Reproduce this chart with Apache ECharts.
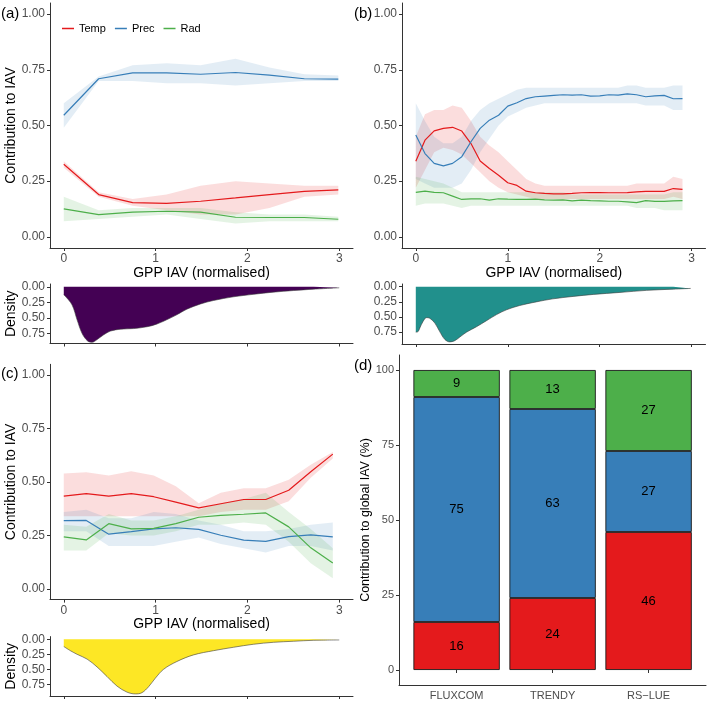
<!DOCTYPE html>
<html><head><meta charset="utf-8">
<script src="https://cdn.jsdelivr.net/npm/echarts@6/dist/echarts.min.js"></script>
<style>html,body{margin:0;padding:0;background:#fff}#c{width:709px;height:702px}</style>
</head><body><div id="c"></div>
<script>
// ---------- DATA ----------
const X_TICKS = [0, 1, 2, 3];
const Y_TICKS = [0, 0.25, 0.5, 0.75, 1];
const D_TICKS = [0, 0.25, 0.5, 0.75];
const BAR_TICKS = [0, 25, 50, 75, 100];

// panel (a)
const A_x       = [0, 0.38, 0.75, 1.12, 1.49, 1.87, 2.24, 2.62, 2.99];
const A_temp    = [0.326, 0.19, 0.154, 0.15, 0.16, 0.175, 0.19, 0.204, 0.211];
const A_temp_lo = [0.31, 0.18, 0.14, 0.12, 0.10, 0.10, 0.13, 0.18, 0.19];
const A_temp_hi = [0.34, 0.20, 0.17, 0.19, 0.23, 0.25, 0.24, 0.23, 0.23];
const A_prec    = [0.546, 0.71, 0.736, 0.736, 0.73, 0.738, 0.726, 0.71, 0.708];
const A_prec_lo = [0.49, 0.70, 0.70, 0.69, 0.69, 0.68, 0.69, 0.70, 0.70];
const A_prec_hi = [0.60, 0.72, 0.77, 0.78, 0.77, 0.80, 0.76, 0.73, 0.725];
const A_rad     = [0.126, 0.10, 0.111, 0.115, 0.111, 0.088, 0.087, 0.087, 0.079];
const A_rad_lo  = [0.07, 0.08, 0.09, 0.10, 0.08, 0.06, 0.07, 0.07, 0.07];
const A_rad_hi  = [0.18, 0.12, 0.13, 0.13, 0.13, 0.11, 0.10, 0.10, 0.09];

// panel (b)
const B_x       = [0,0.1,0.2,0.3,0.4,0.5,0.6,0.7,0.8,0.9,1.0,1.1,1.2,1.3,1.4,1.5,1.6,1.7,1.8,1.9,2.0,2.1,2.2,2.3,2.4,2.5,2.6,2.7,2.8,2.9];
const B_prec    = [0.457,0.374,0.33,0.319,0.33,0.36,0.427,0.487,0.524,0.546,0.587,0.602,0.621,0.629,0.632,0.635,0.638,0.636,0.638,0.632,0.633,0.638,0.636,0.642,0.638,0.629,0.633,0.635,0.62,0.621];
const B_prec_lo = [0.26,0.24,0.22,0.22,0.22,0.24,0.30,0.38,0.44,0.50,0.54,0.56,0.58,0.59,0.60,0.60,0.60,0.60,0.60,0.60,0.60,0.60,0.60,0.60,0.60,0.59,0.59,0.59,0.57,0.57];
const B_prec_hi = [0.60,0.52,0.45,0.42,0.42,0.45,0.52,0.57,0.60,0.62,0.64,0.66,0.67,0.67,0.67,0.67,0.67,0.67,0.67,0.67,0.67,0.67,0.67,0.68,0.68,0.67,0.67,0.67,0.68,0.68];
const B_temp    = [0.34,0.434,0.476,0.487,0.492,0.475,0.419,0.341,0.307,0.277,0.243,0.231,0.205,0.198,0.195,0.193,0.193,0.195,0.198,0.199,0.199,0.198,0.198,0.199,0.202,0.204,0.204,0.204,0.217,0.213];
const B_temp_lo = [0.22,0.30,0.38,0.40,0.39,0.37,0.33,0.29,0.25,0.22,0.20,0.19,0.18,0.17,0.17,0.17,0.17,0.17,0.17,0.17,0.17,0.17,0.17,0.17,0.17,0.17,0.17,0.17,0.18,0.17];
const B_temp_hi = [0.45,0.55,0.57,0.57,0.59,0.58,0.52,0.45,0.41,0.38,0.34,0.30,0.26,0.24,0.23,0.23,0.23,0.23,0.23,0.23,0.23,0.23,0.23,0.23,0.24,0.24,0.24,0.24,0.27,0.26];
const B_rad     = [0.2,0.205,0.2,0.198,0.183,0.168,0.171,0.171,0.165,0.171,0.169,0.168,0.168,0.169,0.166,0.165,0.166,0.162,0.165,0.163,0.162,0.16,0.16,0.157,0.154,0.163,0.159,0.159,0.162,0.163];
const B_rad_lo  = [0.14,0.15,0.15,0.15,0.14,0.13,0.14,0.14,0.14,0.14,0.14,0.14,0.14,0.14,0.14,0.14,0.14,0.14,0.14,0.14,0.14,0.14,0.14,0.14,0.13,0.13,0.13,0.12,0.12,0.12];
const B_rad_hi  = [0.27,0.26,0.25,0.24,0.22,0.20,0.20,0.20,0.20,0.20,0.20,0.20,0.20,0.20,0.20,0.20,0.20,0.19,0.19,0.19,0.19,0.19,0.19,0.19,0.19,0.19,0.19,0.19,0.20,0.20];

// panel (c)
const C_x       = [0, 0.245, 0.49, 0.735, 0.98, 1.22, 1.47, 1.71, 1.96, 2.2, 2.45, 2.69, 2.93];
const C_temp    = [0.434,0.445,0.434,0.445,0.431,0.406,0.379,0.398,0.418,0.418,0.461,0.548,0.63];
const C_temp_lo = [0.34,0.34,0.34,0.34,0.34,0.34,0.34,0.36,0.37,0.37,0.41,0.52,0.61];
const C_temp_hi = [0.54,0.545,0.53,0.55,0.53,0.48,0.40,0.45,0.47,0.47,0.51,0.58,0.64];
const C_prec    = [0.319,0.32,0.256,0.268,0.281,0.286,0.278,0.251,0.228,0.222,0.244,0.253,0.243];
const C_prec_lo = [0.27,0.27,0.20,0.20,0.20,0.22,0.24,0.21,0.19,0.17,0.20,0.20,0.18];
const C_prec_hi = [0.36,0.37,0.33,0.33,0.36,0.35,0.32,0.30,0.27,0.27,0.28,0.30,0.31];
const C_rad     = [0.243,0.229,0.305,0.281,0.283,0.305,0.335,0.344,0.349,0.355,0.29,0.192,0.121];
const C_rad_lo  = [0.18,0.18,0.26,0.25,0.25,0.27,0.30,0.30,0.31,0.30,0.22,0.12,0.05];
const C_rad_hi  = [0.30,0.29,0.35,0.32,0.32,0.34,0.37,0.40,0.42,0.45,0.36,0.28,0.19];

// density curves
const DA_x = [0,0.01,0.09,0.145,0.2,0.26,0.31,0.36,0.435,0.51,0.62,0.76,0.91,1.01,1.12,1.23,1.34,1.49,1.63,1.85,2.07,2.28,2.5,2.72,3.0];
const DA_y = [0.13,0.14,0.29,0.53,0.75,0.87,0.89,0.85,0.77,0.71,0.68,0.67,0.64,0.6,0.53,0.45,0.36,0.275,0.22,0.16,0.12,0.086,0.06,0.038,0.016];
const DB_x = [0,0.025,0.044,0.08,0.116,0.152,0.207,0.26,0.316,0.37,0.424,0.479,0.551,0.66,0.769,0.878,0.987,1.13,1.31,1.49,1.71,1.93,2.22,2.51,2.8,2.99];
const DB_y = [0.75,0.74,0.68,0.57,0.51,0.52,0.6,0.74,0.87,0.91,0.89,0.83,0.75,0.66,0.56,0.46,0.38,0.31,0.25,0.2,0.16,0.127,0.094,0.06,0.04,0.028];
const DC_x = [0,0.072,0.145,0.254,0.362,0.471,0.58,0.688,0.779,0.851,0.924,0.996,1.087,1.232,1.413,1.63,1.848,2.065,2.283,2.5,2.717,3.0];
const DC_y = [0.12,0.19,0.25,0.33,0.46,0.62,0.78,0.88,0.91,0.89,0.79,0.65,0.5,0.37,0.26,0.19,0.133,0.083,0.05,0.033,0.017,0.011];

// panel (d)
const MODELS   = ['FLUXCOM', 'TRENDY', 'RS\u2212LUE'];
const BAR_TEMP = [16, 24, 46];
const BAR_PREC = [75, 63, 27];
const BAR_RAD  = [9, 13, 27];

// ---------- STYLE ----------
const RED = '#E41A1C', BLUE = '#377EB8', GREEN = '#4DAF4A';
const RED_BAND = 'rgba(228,26,28,0.15)', BLUE_BAND = 'rgba(55,126,184,0.14)', GREEN_BAND = 'rgba(77,175,74,0.15)';
const AX = '#333333', TXT = '#4d4d4d';
const FONT = '"Liberation Sans", Arial, Helvetica, sans-serif';

const zip = (xs, ys) => xs.map((x, i) => [x, ys[i]]);
const zip3 = (xs, a, b) => xs.map((x, i) => [x, a[i], b[i]]);

function xAx(gi, showLabels, name) {
  return {type: 'value', gridIndex: gi, min: -0.15, max: 3.15,
    axisLine: {show: true, onZero: false, lineStyle: {color: AX, width: 1}},
    axisTick: {show: true, customValues: X_TICKS, length: 3, lineStyle: {color: AX}},
    axisLabel: {show: showLabels, customValues: X_TICKS, color: TXT, fontSize: 12, margin: 5, fontFamily: FONT},
    splitLine: {show: false},
    name: name || '', nameLocation: 'middle', nameGap: 16,
    nameTextStyle: {color: '#000', fontSize: 14, fontFamily: FONT}};
}
function yAx(gi, name) {
  return {type: 'value', gridIndex: gi, min: -0.05, max: 1.05,
    axisLine: {show: true, onZero: false, lineStyle: {color: AX, width: 1}},
    axisTick: {show: true, customValues: Y_TICKS, length: 3, lineStyle: {color: AX}},
    axisLabel: {customValues: Y_TICKS, color: TXT, fontSize: 12, margin: 5, fontFamily: FONT, formatter: v => v.toFixed(2)},
    splitLine: {show: false},
    name: name || '', nameLocation: 'middle', nameGap: 30,
    nameTextStyle: {color: '#000', fontSize: 14, fontFamily: FONT}};
}
function dAx(gi, max, name) {
  return {type: 'value', gridIndex: gi, min: -0.045, max: max, inverse: true,
    axisLine: {show: true, onZero: false, lineStyle: {color: AX, width: 1}},
    axisTick: {show: true, customValues: D_TICKS, length: 3, lineStyle: {color: AX}},
    axisLabel: {customValues: D_TICKS, color: TXT, fontSize: 12, margin: 5, fontFamily: FONT, formatter: v => v.toFixed(2)},
    splitLine: {show: false},
    name: name || '', nameLocation: 'middle', nameGap: 30,
    nameTextStyle: {color: '#000', fontSize: 14, fontFamily: FONT}};
}

function band(xi, rows, color) {
  return {type: 'custom', xAxisIndex: xi, yAxisIndex: xi, data: rows, silent: true, z: 1,
    encode: {x: 0, y: [1, 2]},
    renderItem: function (params, api) {
      if (params.dataIndexInside !== 0) return null;
      const n = params.dataInsideLength, pts = [];
      for (let i = 0; i < n; i++) pts.push(api.coord([api.value(0, i), api.value(1, i)]));
      for (let i = n - 1; i >= 0; i--) pts.push(api.coord([api.value(0, i), api.value(2, i)]));
      return {type: 'polygon', shape: {points: pts}, style: {fill: color}};
    }};
}
function line(xi, name, xs, ys, color) {
  return {type: 'line', name: name, xAxisIndex: xi, yAxisIndex: xi, data: zip(xs, ys),
    symbol: 'none', z: 3, lineStyle: {color: color, width: 1.2}, itemStyle: {color: color}};
}
function dens(xi, xs, ys, color) {
  return {type: 'line', xAxisIndex: xi, yAxisIndex: xi, data: zip(xs, ys), smooth: 0.35,
    symbol: 'none', z: 2, lineStyle: {color: '#3a3a3a', width: 0.6}, areaStyle: {color: color, opacity: 1}};
}
function barS(name, vals, color) {
  return {type: 'bar', name: name + ' ', xAxisIndex: 6, yAxisIndex: 6, stack: 'tot', data: vals,
    barWidth: '90%', itemStyle: {color: color, borderColor: '#1a1a1a', borderWidth: 0.9},
    label: {show: true, position: 'inside', color: '#000', fontSize: 13, fontFamily: FONT}};
}

const option = {
  animation: false,
  backgroundColor: '#fff',
  textStyle: {fontFamily: FONT},
  grid: [
    {left: 50, top: 3, width: 303, height: 245},
    {left: 50, top: 284, width: 303, height: 59.5},
    {left: 402, top: 3, width: 303.5, height: 245},
    {left: 402, top: 284, width: 303.5, height: 60},
    {left: 50, top: 364.3, width: 303, height: 235.3},
    {left: 50, top: 636.6, width: 303, height: 59.4},
    {left: 408.6, top: 355, width: 288, height: 330},
    {left: 399, top: 355, width: 307, height: 330}
  ],
  xAxis: [
    xAx(0, true, 'GPP IAV (normalised)'),
    xAx(1, false),
    xAx(2, true, 'GPP IAV (normalised)'),
    xAx(3, false),
    xAx(4, true, 'GPP IAV (normalised)'),
    xAx(5, false),
    {type: 'category', gridIndex: 6, data: MODELS,
      axisLine: {show: false}, axisTick: {show: true, alignWithLabel: true, length: 3, lineStyle: {color: AX}},
      axisLabel: {color: TXT, fontSize: 11, margin: 5, fontFamily: FONT}},
    {type: 'value', gridIndex: 7, min: 0, max: 1,
      axisLine: {show: true, onZero: false, lineStyle: {color: AX, width: 1}},
      axisTick: {show: false}, axisLabel: {show: false}, splitLine: {show: false}}
  ],
  yAxis: [
    yAx(0, 'Contribution to IAV'),
    dAx(1, 0.91, 'Density'),
    yAx(2, ''),
    dAx(3, 0.945, ''),
    yAx(4, 'Contribution to IAV'),
    dAx(5, 0.945, 'Density'),
    {type: 'value', gridIndex: 6, min: -5, max: 105, show: false},
    {type: 'value', gridIndex: 7, min: -5, max: 105,
      axisLine: {show: true, onZero: false, lineStyle: {color: AX, width: 1}},
      axisTick: {show: true, customValues: BAR_TICKS, length: 3, lineStyle: {color: AX}},
      axisLabel: {customValues: BAR_TICKS, color: TXT, fontSize: 11, margin: 5, fontFamily: FONT},
      splitLine: {show: false},
      name: 'Contribution to global IAV (%)', nameLocation: 'middle', nameGap: 23,
      nameTextStyle: {color: '#000', fontSize: 12.5, fontFamily: FONT}}
  ],
  legend: {data: ['Temp', 'Prec', 'Rad'], left: 57, top: 18, icon: 'rect', itemWidth: 12, itemHeight: 1.5,
    itemGap: 9, textStyle: {fontSize: 11, color: '#000', fontFamily: FONT}},
  graphic: [
    {type: 'text', left: 1, top: 6, style: {text: '(a)', fontSize: 15, fill: '#000', fontFamily: FONT}},
    {type: 'text', left: 354, top: 6, style: {text: '(b)', fontSize: 15, fill: '#000', fontFamily: FONT}},
    {type: 'text', left: 1, top: 366, style: {text: '(c)', fontSize: 15, fill: '#000', fontFamily: FONT}},
    {type: 'text', left: 354, top: 358, style: {text: '(d)', fontSize: 15, fill: '#000', fontFamily: FONT}}
  ],
  series: [
    band(0, zip3(A_x, A_temp_lo, A_temp_hi), RED_BAND),
    band(0, zip3(A_x, A_prec_lo, A_prec_hi), BLUE_BAND),
    band(0, zip3(A_x, A_rad_lo, A_rad_hi), GREEN_BAND),
    line(0, 'Temp', A_x, A_temp, RED),
    line(0, 'Prec', A_x, A_prec, BLUE),
    line(0, 'Rad', A_x, A_rad, GREEN),
    dens(1, DA_x, DA_y, '#440154'),

    band(2, zip3(B_x, B_temp_lo, B_temp_hi), RED_BAND),
    band(2, zip3(B_x, B_prec_lo, B_prec_hi), BLUE_BAND),
    band(2, zip3(B_x, B_rad_lo, B_rad_hi), GREEN_BAND),
    line(2, 'Temp', B_x, B_temp, RED),
    line(2, 'Prec', B_x, B_prec, BLUE),
    line(2, 'Rad', B_x, B_rad, GREEN),
    dens(3, DB_x, DB_y, '#21908C'),

    band(4, zip3(C_x, C_temp_lo, C_temp_hi), RED_BAND),
    band(4, zip3(C_x, C_prec_lo, C_prec_hi), BLUE_BAND),
    band(4, zip3(C_x, C_rad_lo, C_rad_hi), GREEN_BAND),
    line(4, 'Temp', C_x, C_temp, RED),
    line(4, 'Prec', C_x, C_prec, BLUE),
    line(4, 'Rad', C_x, C_rad, GREEN),
    dens(5, DC_x, DC_y, '#FDE725'),

    barS('Temp', BAR_TEMP, RED),
    barS('Prec', BAR_PREC, BLUE),
    barS('Rad', BAR_RAD, GREEN)
  ]
};

const chart = echarts.init(document.getElementById('c'), null, {renderer: 'canvas'});
chart.setOption(option);
</script></body></html>
